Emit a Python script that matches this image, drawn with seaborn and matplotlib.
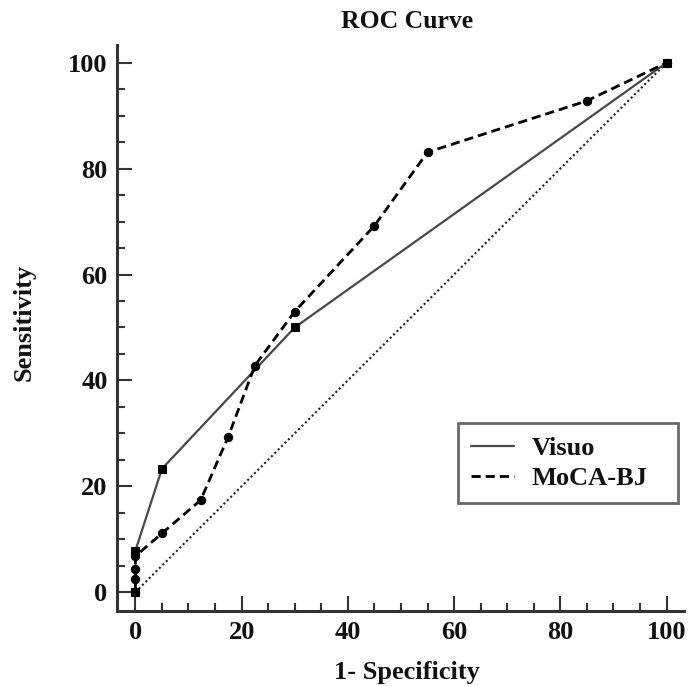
import matplotlib
matplotlib.use("Agg")
import matplotlib.pyplot as plt
from matplotlib.ticker import MultipleLocator
import seaborn as sns
import pandas as pd

visuo_x = [0, 0, 5, 30, 100]
visuo_y = [0, 7.8, 23.3, 50, 100]
moca_x = [0, 0, 0, 0, 5, 12.3, 17.5, 22.5, 30, 45, 55, 85, 100]
moca_y = [0, 2.5, 4.4, 6.8, 11.1, 17.4, 29.4, 42.8, 53, 69.2, 83.1, 92.8, 100]
diag = [0, 100]

sns.set_style("ticks")
plt.rcParams['font.family'] = ['Liberation Serif', 'DejaVu Serif']
plt.rcParams['font.weight'] = 'bold'
plt.rcParams['text.color'] = '#111111'
plt.rcParams['axes.labelcolor'] = '#111111'
plt.rcParams['xtick.labelcolor'] = '#111111'
plt.rcParams['ytick.labelcolor'] = '#111111'

fig = plt.figure(figsize=(6.88, 6.86), dpi=100)
ax = fig.add_axes([0.1705, 0.109, 0.823, 0.825])

df_v = pd.DataFrame({"x": visuo_x, "y": visuo_y})
df_m = pd.DataFrame({"x": moca_x, "y": moca_y})
df_d = pd.DataFrame({"x": diag, "y": diag})

sns.lineplot(data=df_d, x="x", y="y", ax=ax, sort=False, estimator=None,
             color="#222222", lw=1.5, linestyle=(0, (1, 1.3)))
sns.lineplot(data=df_v, x="x", y="y", ax=ax, sort=False, estimator=None,
             color="#484848", lw=1.6, marker="s", markersize=6.2,
             markerfacecolor="black", markeredgecolor="black", label="Visuo")
sns.lineplot(data=df_m, x="x", y="y", ax=ax, sort=False, estimator=None,
             color="black", lw=2.0, linestyle=(0, (3.3, 1.8)), marker="o", markersize=6,
             markerfacecolor="black", markeredgecolor="black", label="MoCA-BJ")

ax.set_xlim(-3.4, 103.2)
ax.set_ylim(-3.6, 103.3)
ax.xaxis.set_major_locator(MultipleLocator(20))
ax.yaxis.set_major_locator(MultipleLocator(20))
ax.xaxis.set_minor_locator(MultipleLocator(5))
ax.yaxis.set_minor_locator(MultipleLocator(5))
ax.tick_params(which="major", direction="in", length=11, width=1.5, color="#333333",
               labelsize=19, pad=7, labelcolor="#111111")
ax.tick_params(which="minor", direction="in", length=6, width=1.5, color="#333333")
for lab in ax.get_xticklabels() + ax.get_yticklabels():
    lab.set_fontweight("bold")

for s in ["top", "right"]:
    ax.spines[s].set_visible(False)
for s in ["left", "bottom"]:
    ax.spines[s].set_linewidth(2.2)
    ax.spines[s].set_color("#333333")

ax.set_xlabel("1- Specificity", fontsize=19, fontweight="bold", color="#111111")
ax.set_ylabel("Sensitivity", fontsize=19, fontweight="bold", color="#111111")
ax.xaxis.set_label_coords(0.512, -0.088)
ax.yaxis.set_label_coords(-0.145, 0.51)
fig.text(0.591, 1 - 28 / 686, "ROC Curve", fontsize=18.5, fontweight="bold",
         ha="center", va="baseline", color="#111111")

leg = ax.legend(loc="upper left", bbox_to_anchor=(0.602, 0.232, 0.388, 0.1), mode="expand",
                borderaxespad=0, frameon=True, fancybox=False,
                handlelength=1.63, handletextpad=0.65, borderpad=0.5, labelspacing=0.25,
                prop={"weight": "bold", "size": 19})
leg.get_frame().set_edgecolor("#444444")
leg.get_frame().set_linewidth(2)
for t in leg.get_texts():
    t.set_color("#111111")
for h in leg.get_lines():
    h.set_marker("")

fig.savefig("out.png", dpi=100)
